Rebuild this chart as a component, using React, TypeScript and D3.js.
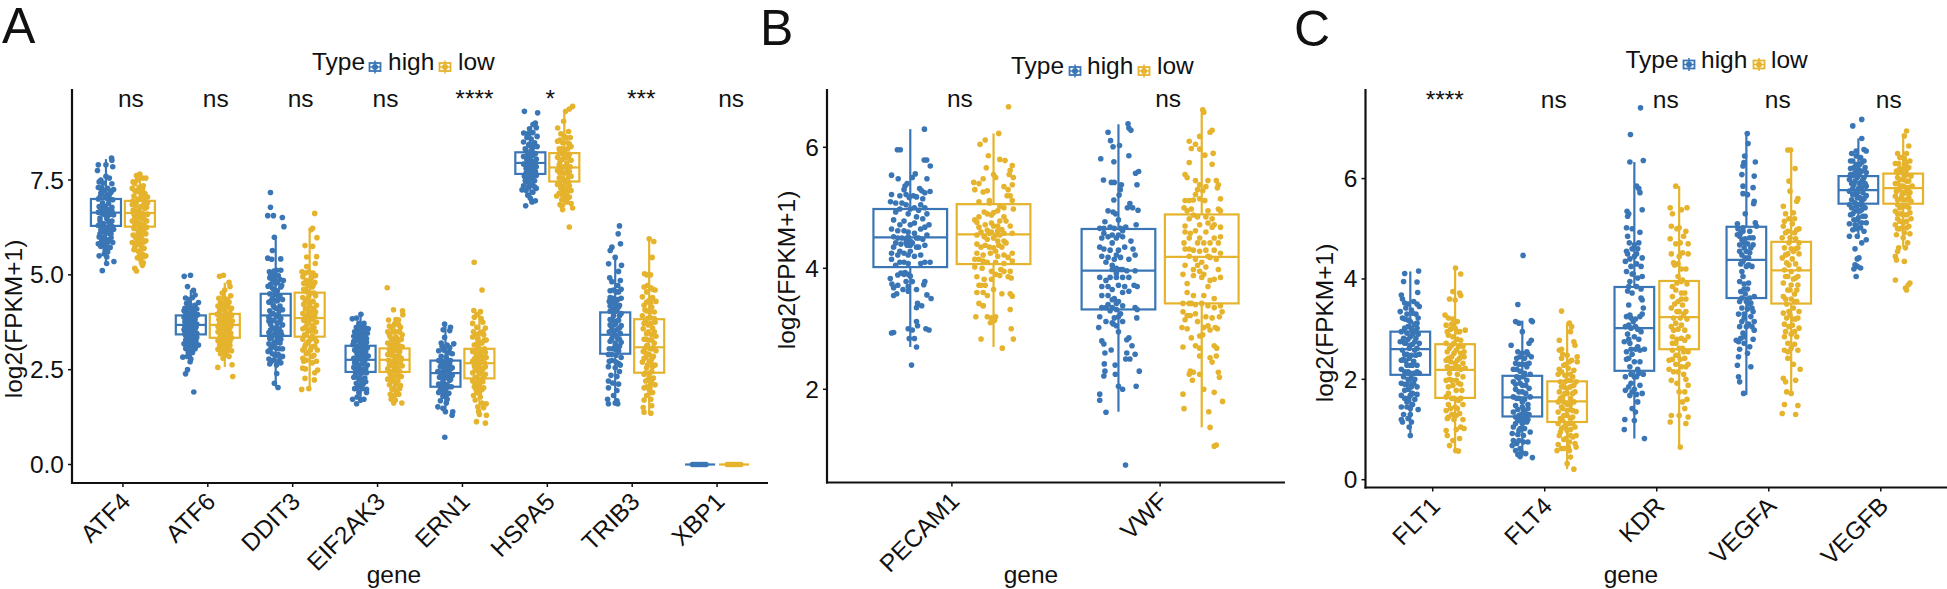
import React from "react";
import * as d3 from "d3";

const BLUE = "#3a76b5";
const GOLD = "#e6b32d";
const FONT = "'Liberation Sans', Arial, sans-serif";

// ---------- categories and labels ----------
const genesA = ["ATF4", "ATF6", "DDIT3", "EIF2AK3", "ERN1", "HSPA5", "TRIB3", "XBP1"];
const genesB = ["PECAM1", "VWF"];
const genesC = ["FLT1", "FLT4", "KDR", "VEGFA", "VEGFB"];
const sigA = ["ns", "ns", "ns", "ns", "****", "*", "***", "ns"];
const sigB = ["ns", "ns"];
const sigC = ["****", "ns", "ns", "ns", "ns"];
const ticksA = [0, 2.5, 5, 7.5];
const ticksB = [2, 4, 6];
const ticksC = [0, 2, 4, 6];

// ---------- box statistics: q1, median, q3, lower whisker, upper whisker ----------
const statsA_high = [[6.29,6.64,7.0,5.32,8.05],[3.43,3.68,3.93,2.67,4.6],[3.39,3.93,4.5,2.05,6.01],[2.44,2.76,3.13,1.62,3.94],[2.05,2.41,2.74,1.39,3.64],[7.66,7.95,8.23,6.89,8.91],[2.92,3.42,4.01,1.61,5.48],[0,0,0,0,0]];
const statsA_low = [[6.27,6.63,6.95,5.27,7.66],[3.34,3.68,3.97,2.57,4.79],[3.37,3.86,4.53,1.99,6.14],[2.44,2.76,3.06,1.62,3.87],[2.27,2.67,3.05,1.26,4.03],[7.46,7.83,8.21,6.8,9.34],[2.42,3.09,3.83,1.35,5.92],[0,0,0,0,0]];
const statsB_high = [[4.02,4.51,4.98,2.7,6.3],[3.32,3.96,4.65,1.63,6.38]];
const statsB_low = [[4.07,4.56,5.06,2.7,6.23],[3.42,4.19,4.89,1.37,6.62]];
const statsC_high = [[2.09,2.6,2.95,0.89,4.15],[1.26,1.64,2.07,0.46,3.17],[2.17,3.02,3.84,0.82,6.33],[3.62,4.38,5.04,1.69,6.9],[5.5,5.77,6.05,4.81,6.8]];
const statsC_low = [[1.63,2.19,2.7,0.58,4.22],[1.15,1.56,1.96,0.21,3.13],[2.6,3.24,3.96,0.65,5.85],[3.51,4.17,4.74,1.72,6.57],[5.5,5.81,6.1,4.64,6.9]];

// ---------- points: flat pairs of jitter (percent of a category step), log2(FPKM+1) ----------
const ATF4_high = [6.6,8.08,7,8.02,-9,7.9,0,7.9,8,7.85,-10,7.75,0,7.6,-8,7.45,-3,7.42,7,7.4,-9,7.3,2,7.28,9,7.25,-6,7.15,4,7.12,-1,7.08,-9,7.0,8,6.98,-4,6.9,3,6.88,-8,6.8,7,6.78,0,6.72,-9,6.65,-4,6.62,5,6.6,9,6.58,-7,6.5,1,6.48,7,6.42,-3,6.35,-9,6.3,4,6.28,9,6.2,-6,6.18,0,6.12,6,6.08,-8,6.0,-3,5.98,3,5.92,8,5.85,-9,5.82,-4,5.78,1,5.72,-1,5.65,2,5.6,-2,5.55,-8,5.5,1,5.47,9.4,5.35,0.8,5.3,-4.3,5.11,5,7.2,-5,7.3,3,7.0,-1,6.8,2,6.55,-2,6.25,5,6.15,-5,5.9];
const ATF4_low = [0,7.66,-4,7.62,-8,7.45,3,7.55,-6,7.4,4,7.35,-9,7.28,-1,7.3,-4,7.2,1,7.15,6,7.14,9,7.05,-7,7.08,-2,7.0,4,6.98,9,6.9,-9,6.85,-5,6.82,1,6.8,6,6.75,-8,6.7,-3,6.65,3,6.62,9,6.6,-6,6.52,0,6.5,6,6.45,-9,6.42,-3,6.36,3,6.32,8,6.25,-7,6.22,-1,6.18,5,6.12,-8,6.05,-3,6.02,2,5.98,7,5.9,-9,5.85,-4,5.8,1,5.78,5,5.7,-7,5.66,-2,5.62,3,5.55,7,5.5,-3,5.45,1,5.4,4,5.32,3,5.25,-6,5.17,-4,5.1,7,7.55,-7,6.6,5,6.88,0,6.6,-2,6.3,3,6.2,-3,5.9];
const ATF6_high = [-7.8,4.96,-0.4,4.99,-3.9,4.69,3.1,4.59,5,4.47,-6.2,4.39,9,4.27,-2,4.35,2,4.4,-5,4.25,-1,4.22,5,4.2,-7,4.12,0,4.12,3,4.08,7,4.1,-6,4.0,-2,3.98,2,3.96,8,3.95,-8,3.88,-3,3.85,1,3.84,5,3.82,-7,3.76,-1,3.72,3,3.72,7,3.7,-5,3.64,0,3.6,5,3.58,-8,3.55,-3,3.5,2,3.48,7,3.46,-6,3.4,-1,3.36,4,3.36,-4,3.28,1,3.26,6,3.24,-8,3.18,-2,3.15,3,3.14,9,3.15,-6,3.06,0,3.04,5,3.05,-3,2.96,2,2.95,-9.4,2.83,-4,2.85,0,2.78,-0.8,2.71,-3.9,2.5,-6.2,2.39,3.5,1.91];
const ATF6_low = [-6.2,4.96,-1.6,4.99,5,4.8,6.2,4.69,0,4.6,-3,4.52,7,4.45,-7,4.38,-1,4.4,3,4.35,-5,4.28,1,4.25,-8,4.18,-3,4.15,4,4.15,8,4.12,-6,4.05,0,4.05,-9,3.96,-3,3.92,3,3.94,8,3.92,-7,3.82,-1,3.82,5,3.82,9,3.78,-4,3.72,2,3.7,-8,3.64,7,3.64,-3,3.58,3,3.56,-8,3.5,0,3.46,7,3.46,-5,3.38,3,3.36,8,3.34,-8,3.26,-2,3.24,4,3.24,-6,3.14,0,3.14,6,3.14,-8,3.04,-3,3.02,3,3.0,8,3.0,-5,2.92,1,2.9,5,2.85,-2,2.8,-8.2,2.56,8.6,2.63,9.4,2.32];
const DDIT3_high = [-6.2,7.17,-6.2,6.78,-9.4,6.56,-2.7,6.56,7.8,6.51,9.7,6.27,-1.6,5.99,-3.9,5.64,-9.4,5.44,-4.7,5.41,5.9,5.42,-7.4,5.08,1,5.12,-2,4.98,3,4.98,-7,4.92,-4,4.88,5,4.88,9,4.85,0,4.78,-9,4.7,-4,4.65,6,4.68,2,4.58,-7,4.5,-1,4.48,5,4.45,-4,4.38,2,4.32,8,4.35,-8,4.28,-3,4.2,5,4.18,0,4.12,-7,4.05,8,4.08,-3,3.98,3,3.95,-8,3.88,6,3.85,-2,3.8,-6,3.7,2,3.72,8,3.68,-3,3.6,4,3.58,-8,3.48,0,3.48,7,3.42,-5,3.35,2,3.3,-2,3.22,5,3.2,-8,3.18,-5,3.08,1,3.06,8,3.05,-9,2.98,-4,2.92,3,2.9,8,2.85,-8,2.78,-3,2.75,4,2.72,-7,2.65,1,2.62,6,2.68,1.2,2.4,-1.6,2.14,2.7,2.03];
const DDIT3_low = [5.9,6.62,3.5,6.23,1.6,6.19,8.6,5.98,-5.5,5.77,3.5,5.75,-3.5,5.47,8.2,5.48,6.6,5.3,-3.5,5.22,-9,5.08,4,5.05,-8,4.95,7,4.98,-4,4.85,0,4.82,6,4.8,-2,4.72,3,4.68,-7,4.62,-3,4.55,1,4.52,7,4.45,-8,4.4,-3,4.35,4,4.3,-7,4.22,0,4.18,8,4.2,-5,4.1,3,4.05,-8,3.98,-2,3.95,6,3.92,1,3.85,-7,3.8,8,3.75,-3,3.7,3,3.66,-8,3.58,0,3.55,7,3.5,-4,3.42,3,3.38,-8,3.3,-1,3.25,8,3.25,-5,3.15,3,3.1,-8,3.02,9,3.02,-2,2.95,5,2.88,-8,2.8,-4,2.75,8,2.72,3,2.68,-8.2,2.54,-5,2.52,9.4,2.49,6,2.42,-5.5,2.27,5.5,2.23,-9.4,1.98,-1,2.0];
const EIF2AK3_high = [0.4,3.96,-4.7,3.86,-9.8,3.84,-2,3.72,-5,3.62,2,3.62,6,3.6,9,3.58,-7,3.5,-1,3.5,4,3.48,8,3.46,-8,3.38,-3,3.36,2,3.36,7,3.32,-6,3.26,0,3.22,5,3.24,-9,3.16,-3,3.12,3,3.12,8,3.08,-7,3.02,0,3.0,6,2.98,-4,2.9,2,2.9,9,2.86,-8,2.8,-1,2.78,5,2.75,-5,2.68,2,2.65,8,2.62,-8,2.56,-2,2.54,4,2.5,-6,2.44,0,2.4,7,2.42,-8,2.3,-3,2.28,3,2.25,6,2.18,-5,2.14,0,2.1,-7,2.0,2,2.0,7,1.98,-2,1.9,7,1.9,-4,1.78,3.9,1.72,-9.4,1.72,0,1.7,-4.7,1.6];
const EIF2AK3_low = [-8.6,4.66,-1.2,4.08,9.4,4.05,9.8,3.95,-7,3.81,4.7,3.81,0,3.7,-4,3.62,7,3.62,-8,3.5,3,3.5,9,3.42,-5,3.36,0,3.3,6,3.28,-8,3.2,-2,3.16,3,3.14,9,3.1,-6,3.02,0,3.0,6,2.98,-8,2.9,-3,2.88,3,2.85,8,2.8,-7,2.75,0,2.72,5,2.7,-4,2.62,2,2.6,9,2.6,-8,2.52,-1,2.48,6,2.46,-5,2.38,2,2.35,8,2.32,-8,2.25,-2,2.2,4,2.2,-6,2.1,1,2.1,7,2.08,-3,1.98,3,1.95,-5,1.85,0,1.82,5,1.85,-4,1.72,1,1.7,-1,1.62,8.6,1.62];
const ERN1_high = [-1,3.7,5.9,3.62,5,3.53,-2.7,3.55,-1,3.35,9.8,3.18,-4,3.12,5,3.08,-8,3.0,-1,3.02,3,2.95,8,2.92,-5,2.85,1,2.82,-8,2.74,6,2.74,-2,2.68,3,2.62,-6,2.58,8,2.55,0,2.5,-9,2.45,-4,2.42,4,2.42,8,2.35,-7,2.3,0,2.28,5,2.22,-3,2.18,-8,2.12,2,2.1,7,2.05,-4,2.0,0,1.95,-8,1.9,4,1.88,-3,1.8,2,1.72,-6,1.68,1,1.62,-9,1.52,-3,1.48,0,1.39,8.6,1.39,7.8,1.3,-0.8,0.72];
const ERN1_low = [-6.2,5.33,3.1,4.6,-6.6,4.06,1.2,4.03,-6,3.88,2,3.85,-8,3.72,4,3.75,-3,3.62,7,3.6,-7,3.5,0,3.46,5,3.42,-8,3.36,-2,3.3,8,3.28,3,3.2,-6,3.15,-1,3.08,6,3.05,-8,2.98,1,2.92,-4,2.85,8,2.82,-8,2.72,3,2.7,-1,2.62,7,2.58,-5,2.52,-8,2.42,2,2.42,7,2.38,-3,2.3,-8,2.2,4,2.18,0,2.1,-6,2.05,3,1.98,-3,1.9,-7,1.82,1,1.78,-5,1.7,3,1.62,8,1.6,-2,1.52,5,1.5,-1,1.4,0,1.32,8.2,1.3,-3.5,1.13,7,1.09];
const HSPA5_high = [-7,9.31,8.6,9.27,5.9,9.0,3.1,8.96,7,8.88,-1,8.85,-7.8,8.74,3,8.75,8,8.65,-4,8.62,1,8.58,-8,8.5,5,8.48,-2,8.42,8,8.38,-6,8.32,2,8.3,-3,8.2,6,8.2,-8,8.12,0,8.1,7,8.05,-4,8.02,3,7.98,-8,7.92,-1,7.88,7,7.85,-5,7.8,3,7.76,-2,7.68,7,7.62,-7,7.6,1,7.55,5,7.48,-4,7.45,-8,7.35,0,7.36,7,7.28,-5,7.22,-9.8,7.24,3,7.18,-3,7.1,0,7.02,5.9,6.95,2,6.92,-5.5,6.82];
const HSPA5_low = [9.8,9.44,5.9,9.37,1.6,9.31,-0.8,9.05,-7.8,8.87,5,8.78,-4,8.72,0,8.65,7,8.62,-8,8.52,-2,8.48,4,8.48,8,8.38,-6,8.32,1,8.3,-3,8.2,6,8.18,-8,8.1,0,8.08,8,8.02,-5,7.98,3,7.95,-1,7.85,7,7.85,-8,7.75,-3,7.7,3,7.7,8,7.6,-6,7.55,0,7.5,5,7.45,-8,7.38,-2,7.32,4,7.28,8,7.22,-6,7.15,0,7.1,6,7.05,-9,7.08,-3,6.98,3,6.92,8,6.88,-5,6.85,-2,6.72,9.8,6.76,-3,6.82,5.9,6.26];
const TRIB3_high = [5,6.29,3.5,6.08,6.2,5.82,-3.9,5.73,-5.9,5.64,0,5.46,-7.8,5.29,7.4,5.25,3.9,5.09,-6.5,4.92,-3.9,4.82,6,4.85,3,4.72,7,4.62,1,4.55,-6,4.4,-3,4.38,3,4.35,7,4.38,-7,4.3,0,4.22,5,4.2,-3,4.1,-6,4.04,2,4.05,7,3.98,-2,3.92,-6,3.82,4,3.8,0,3.7,7,3.66,-4,3.62,2,3.55,-7,3.5,6,3.45,-2,3.4,3,3.32,-6,3.25,7,3.22,0,3.12,-3,3.05,4,3.0,-8,2.9,1,2.88,7,2.82,-4,2.74,4,2.66,-8,2.58,0,2.55,5,2.45,-5,2.35,2,2.32,-8,2.2,-3,2.15,4,2.12,-8,2.02,2,1.95,-2,1.82,-9,1.72,2,1.68,-8,1.6,0,1.62,3,1.6];
const TRIB3_low = [0,5.95,5.5,5.88,3.5,5.46,-5.5,5.03,1.6,5.0,-3,5.0,-6,4.68,2,4.66,7,4.6,-3,4.55,-8,4.42,4,4.4,0,4.32,8,4.3,-6,4.2,3,4.15,-3,4.05,6,4.02,-8,3.92,1,3.88,-4,3.78,7,3.75,-1,3.68,4,3.6,-7,3.58,-3,3.45,3,3.42,8,3.38,-6,3.3,0,3.28,6,3.2,-3,3.12,3,3.05,8,3.0,-7,2.98,0,2.9,5,2.85,-4,2.82,-8,2.7,2,2.68,7,2.62,-3,2.55,3,2.45,-6,2.38,0,2.3,5,2.28,-4,2.2,2,2.12,7,2.1,-6,2.02,0,1.98,4,1.9,-3,1.82,2,1.72,-6,1.7,-7,1.5,3,1.55,-6,1.38,2,1.35];
const XBP1_high = [-9,0,-7,0,-5,0,-3,0,-1,0,1,0,3,0,5,0,7,0];
const XBP1_low = [-8,0,-6,0,-4,0,-2,0,0,0,2,0,4,0,6,0,8,0];

const PECAM1_high = [6.8,6.3,-6.2,5.96,-4.8,5.96,6.7,5.79,7.9,5.79,9.6,5.69,-9,5.54,2.4,5.56,1,5.5,-5.8,5.48,8,5.48,-1.5,5.4,-2.5,5.36,-3,5.3,4.5,5.32,5.5,5.28,7,5.25,9.5,5.27,-9,5.22,-5,5.2,-0.5,5.17,1.5,5.2,6,5.15,-9.5,5.1,-4,5.08,-2,5.05,5,5.05,7,5.0,2,5.0,4,4.96,-7,4.93,-1,4.9,8,4.9,6,4.82,-8,4.8,-3,4.78,2,4.75,9,4.72,-9,4.65,-6,4.62,5,4.65,-1,4.6,8,4.55,-8,4.52,-4,4.5,-2,4.48,0,4.45,3,4.5,6,4.48,-7,4.42,-4.5,4.4,-1.5,4.38,1,4.42,4,4.35,7,4.38,-9,4.25,-6,4.22,-3,4.25,0,4.28,2,4.2,-9,4.15,-5,4.1,-3,4.1,-1,4.08,5,4.08,7,4.1,9.5,4.1,-9.6,3.83,-8.8,3.74,-6,3.89,-4.5,3.92,-2.5,3.93,-1,3.9,0,3.87,-3.5,3.65,-6.5,3.58,-8,3.55,-1,3.62,3,3.65,6.5,3.73,7,3.78,8,3.56,10,3.5,3.5,3.42,5.5,3.38,1,2.98,7.5,3.0,3,3.12,3.5,3.05,-1,3.0,-9,2.93,-8,2.94,2,2.84,-0.5,2.84,9,2.98,3,2.7,0.6,2.4];
const PECAM1_low = [7.2,6.67,2.5,6.23,-4,6.12,-6.5,6.05,-2.5,5.86,3,5.8,5.5,5.78,9,5.7,8,5.62,-3.5,5.66,0,5.55,7.5,5.55,9.5,5.5,1,5.5,-5,5.48,-9.5,5.42,-7,5.4,9,5.38,7,5.3,-9,5.3,-5,5.26,-3,5.28,8,5.2,6.5,5.2,9,5.12,-7,5.1,-2,5.08,3,5.02,5,5.0,9.5,4.98,-4.5,4.93,-3,4.9,-1,4.88,0,4.92,-9,4.8,-8,4.76,-4,4.72,0,4.7,3,4.78,6,4.78,-7,4.68,-3,4.63,-1,4.6,2,4.62,4,4.64,8,4.7,-8,4.55,-4.5,4.52,0,4.5,3,4.55,5,4.58,9,4.58,-8,4.4,-4,4.38,0,4.34,2.5,4.38,6,4.42,-8,4.25,-5,4.22,-1.5,4.25,2,4.2,5,4.22,9,4.25,-9,4.15,-3,4.1,7,4.18,9,4.12,-9,4.02,-5.5,4.0,-1,3.95,1,3.9,3.5,3.98,-8,3.86,-4.5,3.82,-7,3.72,-4,3.72,-1,3.82,3,3.88,7,3.86,8.5,3.84,-8,3.6,-5,3.6,-3,3.55,4,3.58,8,3.58,9,3.54,-7,3.42,-5,3.38,8,3.32,-3,3.2,-1,3.18,1,3.2,-8.5,3.2,-1.5,3.1,0.5,3.14,8.5,3.0,-6,2.83,9.5,2.83,4.2,2.68];
const VWF_high = [4.6,6.39,6,6.28,5,6.32,-5,6.25,-3.8,6.11,-2.6,6.01,0.5,6.03,5,5.86,-8.5,5.81,-2.2,5.76,9.7,5.6,8.2,5.57,-7.2,5.46,-3.4,5.42,-2,5.42,8.9,5.38,1.4,5.38,0.9,5.3,0.3,5.21,-2.2,5.13,5.5,5.07,4.3,5.0,6.8,5.0,9.4,4.96,-5,4.95,-2.6,4.93,-1.4,4.9,0,4.8,-6.5,4.77,8.5,4.72,-9,4.66,-7,4.66,-4,4.68,-2,4.66,1,4.66,3.5,4.68,-8,4.5,-5,4.52,-1,4.5,2,4.52,6,4.45,-9,4.35,-7,4.32,-4,4.3,0,4.3,3,4.35,7,4.32,-8,4.2,-5,4.18,-2,4.15,1,4.18,5,4.15,8,4.22,-3,4.05,-1,4.0,1,3.98,4,3.96,8,3.96,-9,3.85,-6,3.8,-4,3.85,-1,3.92,2,3.85,7.5,3.72,9,3.7,-8,3.7,-3,3.65,0,3.72,3,3.7,-5,3.55,-2,3.5,0,3.45,-8,3.55,5,3.62,-5,3.4,-3,3.35,-1,3.32,2,3.38,8,3.35,9,3.32,-9,3.2,-2,3.18,0,3.2,-6,3.12,-2.5,3.08,8.8,3.18,-9.5,3.02,0,2.95,-8,2.8,-7,2.75,4,2.82,5,2.85,6.5,2.72,-6.5,2.6,-3.5,2.65,4,2.6,8,2.58,-6.8,2.42,-1.6,2.4,3.5,2.5,5.5,2.5,-6.5,2.3,-7,2.22,-1.5,2.25,10,2.3,0,2.05,2,2.0,8.5,2.05,-9,1.92,-9,1.82,-6,1.62,3.4,0.75];
const VWF_low = [0.5,6.62,1,6.58,5,6.28,4,6.25,-1,6.18,-6,6.1,-3,6.05,-5,5.98,-1,5.97,1.5,5.87,-6,5.75,5.5,5.9,5,5.72,-8,5.55,-7,5.5,-3,5.45,-1,5.38,2,5.35,3,5.45,7,5.45,8,5.38,7.5,5.33,-2,5.3,0.5,5.28,9,5.15,-8,5.12,-6,5.12,-4,5.13,-1,5.15,1.5,5.12,-8.5,5.0,-7,4.95,-5,4.98,8,4.98,9,4.95,-4,4.88,-2,4.85,2,4.85,5,4.82,-8,4.7,-1,4.72,3,4.75,6,4.72,9,4.68,-8,4.6,-5.5,4.58,2,4.6,6,4.5,9,4.52,-8.5,4.42,-6,4.5,-2,4.42,4,4.42,8,4.42,-8,4.32,-4,4.3,-1,4.28,2,4.3,6,4.3,9,4.25,-6,4.2,-3,4.15,0,4.1,3,4.2,7,4.15,-8,4.05,-4,3.98,-1,3.95,2,4.02,8,3.98,-9,3.9,-4,3.88,0,3.85,4,3.8,9,3.85,-7,3.75,3,3.7,-4,3.55,-7,3.6,1,3.55,6,3.5,-9,3.42,-6,3.42,-3,3.4,0,3.42,3,3.38,6,3.35,9,3.38,-9,3.28,-7,3.22,-5.5,3.22,2,3.2,8.5,3.2,9.8,3.28,1,3.02,3,3.05,-9.5,3.02,-7,3.0,6.5,3.02,7.5,3.0,-5,2.85,-1,2.88,0.5,2.9,-9,2.7,-1,2.68,6,2.72,7.2,2.68,-1,2.55,4,2.52,5,2.45,-5.5,2.3,-6,2.25,-4,2.28,-1,2.25,8,2.28,8.5,2.2,-4.5,2.15,1,2.0,6,1.95,-9,1.92,10,1.8,-8.5,1.68,3.4,1.63,4,1.37,7,1.08,6,1.06];

const FLT1_high = [7.4,4.16,-5,4.11,-6,3.95,6,3.94,6.6,3.73,-8,3.68,-7,3.6,3,3.55,-2,3.5,8,3.45,-4,3.42,1,3.38,-9,3.35,-3,3.3,5,3.3,7,3.22,-5,3.2,0,3.15,4,3.1,-2,3.05,6,3.02,-8,2.95,-3,2.92,2,2.9,-6,2.82,0,2.85,5,2.82,-9,2.75,-4,2.72,2,2.7,8,2.72,-1,2.62,4,2.58,-7,2.58,-3,2.5,1,2.48,8,2.5,-8,2.38,-4,2.36,3,2.36,0,2.28,6,2.28,-8,2.2,-2,2.15,3,2.12,8,2.12,-6,2.05,1,2.02,-8,1.92,-3,1.9,3,1.92,6,1.85,-2,1.8,-8,1.68,-5,1.62,0,1.68,6,1.7,-3,1.55,2,1.5,-8,1.45,-3,1.45,0,1.42,7,1.4,-8,1.2,-7,1.15,-2,1.22,1,1.15,-1,1.05,0,0.88];
const FLT1_low = [0.3,4.22,5,4.1,-2,3.75,4,3.72,5,3.67,-5,3.6,0,3.58,-9,3.28,-6,3.22,-2,3.2,2,3.15,-8,3.08,-4,3.0,0,3.02,4,2.95,9,2.98,-6,2.88,-2,2.85,2,2.8,-8,2.72,-3,2.68,3,2.65,7,2.66,-7,2.55,-1,2.52,5,2.52,8,2.45,-8,2.38,-4,2.35,2,2.38,-7,2.25,0,2.22,5,2.2,9,2.22,-5,2.12,2,2.1,7,2.05,-8,1.98,-3,1.98,3,1.92,-6,1.85,1,1.78,6,1.78,-8,1.65,-3,1.62,3,1.58,-6,1.5,0,1.45,7,1.5,-8,1.38,-3,1.3,4,1.32,-7,1.22,-1,1.2,7,1.2,5,1.05,8,1.02,-8,0.98,1,1.0,-7,0.88,4,0.82,-2,0.78,-5,0.68,0.5,0.58,3,0.57];
const FLT4_high = [0.7,4.47,-4,3.49,-6,3.15,-3,3.12,8,3.17,9,3.15,0,2.95,-10,2.68,6,2.72,8,2.78,4,2.55,5,2.5,-5,2.42,-2,2.45,2,2.42,8,2.45,-6,2.32,0,2.3,-8,2.2,4,2.25,-2,2.16,-5,2.05,1,2.05,7,2.1,-8,1.95,-2,1.92,3,1.88,-6,1.8,0,1.75,6,1.82,-8,1.65,-3,1.62,2,1.6,7,1.65,-6,1.48,0,1.45,5,1.42,-8,1.35,-3,1.28,2,1.25,6,1.3,-4,1.18,0,1.12,4,1.15,-2,1.02,2,1.02,-8,1.05,-9,0.92,7,0.95,-4,0.9,1,0.88,-8,0.78,-3,0.78,5,0.75,-9,0.68,-2,0.62,-6,0.58,-4,0.5,-2,0.46,3,0.52,9,0.44];
const FLT4_low = [-5,3.36,2,3.12,4,3.05,3,2.95,6,2.75,7,2.68,-7,2.78,-7,2.58,-5,2.6,0,2.48,9,2.45,-5,2.42,9,2.35,2,2.35,-3,2.28,-7,2.2,1,2.22,6,2.18,-8,2.1,-2,2.08,5,2.05,-6,1.95,0,1.98,8,1.95,-3,1.85,3,1.85,-7,1.75,0,1.72,7,1.75,-4,1.65,3,1.62,-8,1.55,0,1.5,6,1.55,-4,1.42,3,1.4,-8,1.35,8,1.36,0,1.28,5,1.25,-4,1.18,-8,1.12,2,1.12,7,1.05,-5,1.02,0,0.98,-7,0.88,3,0.88,8,0.88,-3,0.8,2,0.75,7,0.72,-8,0.7,-5,0.62,8,0.65,-9,0.58,2,0.58,3,0.45,0,0.32,6,0.21];
const KDR_high = [5.5,7.41,-3.5,6.88,-4,6.33,8,6.36,2,5.85,4,5.8,5,5.72,-6.5,5.35,-5,5.3,-6,5.25,7,5.38,-7,5.02,5,4.93,-4.5,4.72,0,4.68,-2,4.6,3,4.6,-6,4.5,0,4.45,7,4.42,-8,4.35,-3,4.25,2,4.3,6,4.25,-7,4.15,-1,4.1,7,4.05,-4,3.95,2,3.85,-6,3.76,6,3.8,-2,3.72,7,3.58,8,3.42,-5,3.48,7,3.3,-7,3.25,-3,3.22,1,3.2,-8,3.05,-3,3.02,3,3.0,-6,2.9,0,2.85,6,2.95,-9,2.75,-4,2.72,3,2.65,-7,2.55,-2,2.5,9,2.6,-7,2.4,0,2.35,5,2.35,-4,2.25,3,2.2,8,2.1,-8,2.05,0,2.05,-3,1.92,5,1.88,-8,1.78,0,1.8,7,1.72,-4,1.68,3,1.55,-2,1.42,1,1.35,-8.5,1.2,0,1.18,-9,1.0,9,0.82];
const KDR_low = [-3,5.85,-8,5.42,-6,5.3,-7,5.05,2,5.38,7,5.42,-2,5.0,4,4.85,6,4.95,-8,4.8,-3,4.7,8,4.7,-7,4.5,0,4.45,8,4.5,-4,4.28,2,4.2,6,4.2,-1,4.05,3,3.98,7,3.9,-3,3.78,2,3.72,-6,3.65,6,3.6,-1,3.55,3,3.48,-7,3.42,-2,3.35,6,3.35,-5,3.22,1,3.22,7,3.2,-7,3.05,-1,3.0,5,2.98,-6,2.85,2,2.82,8,2.85,-3,2.72,3,2.62,8,2.55,-6,2.58,-1,2.48,5,2.42,-9,2.38,-3,2.3,2,2.25,8,2.3,-9,2.2,-5,2.15,-7,1.98,6,2.0,-2,1.92,8,1.88,0,1.75,5,1.75,7,1.6,3,1.55,5,1.42,0,1.28,-7,1.28,8,1.25,-8,1.15,6,1.12,1,0.65];
const VEGFA_high = [0.8,6.9,1.5,6.7,-1.5,6.45,-2.2,6.32,-3,6.25,8,6.33,-4,6.08,7,6.05,-3,5.85,6,5.82,1,5.68,-3,5.7,6.5,5.5,7,5.55,-1,5.3,-8,5.1,-7.5,5.0,-5,4.92,-3,5.02,8,5.12,9,5.05,-8,4.88,-4,4.78,-1,4.8,3,4.82,6,4.82,-6,4.68,-2,4.62,1,4.7,4,4.62,-4,4.48,-1,4.42,3,4.52,-5,4.3,2,4.42,-4,4.15,-3,4.05,2,4.28,5,4.25,-6,3.95,-2,3.9,2,3.92,-5,3.75,-1,3.7,3,3.62,7,3.65,-6,3.55,0,3.55,4,3.52,-4,3.42,1,3.4,6,3.35,-7,3.3,-2,3.22,4,3.25,7,3.15,-6,3.05,0,3.05,7,2.98,-5,2.82,-2,2.85,6,2.8,-9,2.78,-6,2.6,1,2.52,-7,2.45,-8,2.28,4,2.25,-7,2.05,-6,1.95,-2.5,1.72];
const VEGFA_low = [-3,6.57,-0.5,6.57,3.5,6.2,-2,5.95,-1,5.75,5,5.55,6,5.6,-7,5.45,-5,5.3,2,5.32,-6,5.15,-2,5.2,3,5.2,-7,5.05,7,5.0,-3,4.95,3,4.92,-8,4.82,4,4.8,-2,4.72,7,4.72,-6,4.62,0,4.6,4,4.6,-3,4.5,7,4.5,-8,4.42,1,4.4,-4,4.32,4,4.3,-6,4.18,0,4.15,7,4.2,-3,4.05,4,4.02,-7,3.92,0,3.88,6,3.88,-3,3.78,3,3.7,-7,3.65,0,3.6,5,3.55,-4,3.5,2,3.42,-7,3.32,7,3.35,-1,3.28,4,3.2,-6,3.1,1,3.08,7,3.02,-5,2.95,0,2.9,5,2.85,-3,2.72,3,2.7,-6,2.58,6,2.58,-3,2.42,2,2.3,8,2.2,-7,2.02,-5,1.95,4,1.98,-4,1.75,-6,1.5,6,1.48,-8,1.32,4,1.3,0,1.72];
const VEGFB_high = [3,7.18,-5,7.05,3,6.8,-2,6.55,5,6.58,7,6.55,-6,6.5,-5,6.35,-2,6.28,5,6.35,-7,6.2,0,6.18,3,6.15,7,6.12,-5,6.06,-1,6.02,5,6.02,-8,5.98,2,5.92,-4,5.88,7,5.85,0,5.8,-8,5.75,-3,5.7,4,5.72,7,5.66,-1,5.62,-6,5.58,3,5.55,-8,5.48,-2,5.45,6,5.42,1,5.35,-5,5.3,4,5.25,-1,5.18,7,5.12,-8,5.1,-3,5.08,2,5.02,-5,4.98,5,4.95,-8,4.85,-1,4.85,7,4.78,3,4.72,-3,4.6,-1,4.4,0.5,4.42,-4,4.2,-1,4.25,2,4.22,-2,4.05,-3,4.28];
const VEGFB_low = [3,6.95,1,6.85,5,6.65,-5,6.5,-3,6.42,3,6.5,6,6.35,-4,6.3,1,6.25,5,6.22,-6,6.15,-1,6.12,3,6.08,7,6.05,-5,6.02,0,5.98,5,5.95,-7,5.9,-2,5.85,3,5.82,8,5.85,-5,5.78,1,5.72,6,5.72,-7,5.65,-2,5.6,3,5.58,7,5.55,-5,5.48,0,5.45,5,5.42,-7,5.35,-2,5.3,3,5.28,-5,5.2,7,5.2,0,5.12,-7,5.08,3,5.02,-3,5,6,4.9,-6,4.88,0,4.82,4,4.72,-4,4.62,-7,4.45,-5,4.55,2,4.62,-6,4.38,1,4.35,-7,3.98,2,3.82,3,3.78,4.5,3.88,6,3.92];

// ---------- further points read from the dense parts of each group ----------
const ATF4_high2 = [-6,7.5,4,7.55,-5,7.2,-2,7.22,6,7.18,-7,7.05,1,7.02,5,7.0,-3,6.78,3,6.72,-6,6.7,7,6.68,1,6.62,-1,6.58,-7,6.42,3,6.4,5,6.38,-5,6.28,1,6.25,7,6.28,-2,6.12,3,6.1,-7,6.08,-1,5.95,6,5.98,-6,5.75,5,5.72,-3,5.88,2,5.85];
const ATF4_low2 = [-3,7.5,-6,7.22,3,7.25,6,7.02,2,7.05,-4,6.92,-8,6.95,8,6.78,3,6.8,-1,6.72,-5,6.68,5,6.58,-3,6.52,3,6.48,8,6.42,-5,6.42,0,6.35,5,6.3,-6,6.32,-2,6.12,2,6.1,7,6.08,-5,5.98,4,5.85,-1,5.88,-6,5.72,2,5.68,0,5.52,5,5.48];
const ATF6_high2 = [-4,4.12,4,4.0,-8,4.05,-5,3.92,6,3.92,-1,3.9,2,3.82,-5,3.75,-2,3.65,2,3.62,6,3.62,-7,3.62,-4,3.58,0,3.5,5,3.48,-7,3.45,-3,3.4,2,3.38,7,3.35,-6,3.28,-1,3.25,3,3.22,-4,3.12,6,3.12,1,3.08];
const ATF6_low2 = [-2,4.25,5,4.28,-6,4.15,1,4.12,6,4.0,-6,3.95,0,3.92,5,3.92,-3,3.82,2,3.82,7,3.75,-6,3.72,0,3.68,5,3.68,-5,3.6,1,3.58,5,3.55,-6,3.48,-2,3.42,3,3.45,-3,3.32,1,3.3,6,3.25,-5,3.25,-2,3.12,3,3.08,-5,3.02,0,3.0];
const DDIT3_high2 = [-2,5.1,-6,5.0,6,5.12,-1,4.85,2,4.8,-6,4.75,7,4.72,-2,4.6,3,4.42,-6,4.3,0,4.32,4,4.05,-2,4.15,-5,3.98,1,3.9,-8,3.78,5,3.78,-4,3.8,0,3.6,-6,3.55,6,3.5,-3,3.42,3,3.42,-7,3.32,6,3.3,0,3.2,-3,3.12,4,3.05,-7,3.02,-1,2.88,5,2.82,-5,2.72];
const DDIT3_low2 = [-5,5.05,-1,5.08,2,4.92,-7,4.78,4,4.72,-5,4.62,-1,4.42,5,4.52,1,4.28,-5,4.28,5,4.12,-3,4.12,-1,4.02,3,3.95,7,4.02,-5,3.88,-1,3.78,4,3.82,5,3.62,-5,3.62,-2,3.52,2,3.52,-6,3.42,6,3.32,1,3.3,-3,3.2,6,3.12,-6,3.08,1,3.02,-4,2.92,3,2.85,-7,2.72];
const EIF2AK3_high2 = [4,3.72,-3,3.58,0,3.4,5,3.42,-5,3.42,-8,3.25,-2,3.28,3,3.25,7,3.22,-5,3.12,0,3.12,5,3.1,-5,2.98,3,2.98,-3,2.82,7,2.85,1,2.78,-7,2.68,-2,2.62,4,2.65,-4,2.52,1,2.5,6,2.52,-6,2.35,2,2.42,-1,2.25,5,2.28,-4,2.02,3,2.12];
const EIF2AK3_low2 = [2,3.82,-6,3.65,5,3.68,-2,3.5,6,3.5,-6,3.42,2,3.35,-3,3.28,8,3.3,3,3.22,-5,3.12,1,3.12,6,3.12,-3,3.0,3,3.02,-5,2.9,0,2.85,5,2.88,-2,2.72,3,2.72,-6,2.62,7,2.72,0,2.55,4,2.55,-6,2.45,2,2.48,-2,2.3,5,2.32,-5,2.25,1,2.2,-1,2.0,6,2.0];
const ERN1_high2 = [-5,3.2,2,3.15,-2,3.02,5,2.95,-4,2.72,2,2.72,-6,2.72,0,2.62,5,2.62,-3,2.55,2,2.5,6,2.52,-6,2.42,-1,2.38,3,2.32,-4,2.28,6,2.25,-1,2.12,-5,2.1,4,2.05,1,2.02,-6,1.98,-2,1.88,2,1.85];
const ERN1_low2 = [-3,3.95,4,3.5,-4,3.42,1,3.22,-3,3.18,6,3.28,-6,3.0,3,3.02,7,2.95,-3,2.95,0,2.8,4,2.82,-6,2.78,-3,2.7,6,2.68,1,2.55,-6,2.6,4,2.52,-3,2.48,0,2.4,5,2.3,-5,2.3,2,2.25,-2,2.18,-5,2.12,5,2.02,-1,2.02,-4,1.98,0,1.88];
const HSPA5_high2 = [-3,8.72,-1,8.45,4,8.38,-5,8.28,-1,8.2,3,8.15,-5,8.1,-3,8.02,1,7.98,6,7.95,-6,7.9,3,7.88,-3,7.82,0,7.78,6,7.72,-5,7.68,2,7.66,-2,7.55,4,7.6,-6,7.48,2,7.4,-2,7.32,5,7.32];
const HSPA5_low2 = [2,8.62,-5,8.55,6,8.45,-3,8.32,4,8.32,-6,8.2,2,8.15,-2,8.05,5,8.08,-6,7.9,3,7.82,-3,7.82,6,7.72,0,7.68,-5,7.68,-2,7.55,5,7.58,-5,7.42,2,7.42,-1,7.22,6,7.35,-4,7.28,3,7.15,-3,7.12,4,7.02,0,6.98];
const TRIB3_high2 = [-2,4.6,-6,4.58,4,4.55,-3,4.25,1,4.32,-6,4.18,4,4.15,-1,4.02,5,3.92,-3,3.8,2,3.78,-6,3.68,5,3.6,-2,3.52,0,3.42,5,3.3,-4,3.32,0,3.2,-7,3.05,5,3.12,1,3.02,-4,2.9,-7,2.72,1,2.7,6,2.62];
const TRIB3_low2 = [-2,4.72,4,4.62,-3,4.28,2,4.28,-5,4.08,1,4.02,6,3.85,-2,3.85,2,3.72,-6,3.72,6,3.5,-1,3.5,-4,3.3,3,3.28,-2,3.15,5,3.08,-5,3.05,1,3.05,-3,2.92,3,2.78,-6,2.8,0,2.72,-2,2.62,4,2.58,1,2.42,-4,2.42,3,2.22,-2,2.22,1,2.02,-3,2.05,1,1.9];
const PECAM1_high2 = [-2,5.22,3,5.18,-7,5.08,-5,4.98,0,4.98,3,4.85,-5,4.72,0,4.72,7,4.68,-3,4.62,2,4.58,-6,4.5,-1,4.52,4,4.5,-2,4.42,0,4.38,3,4.35,-8,4.35,-5,4.28,-1,4.22,5,4.22,-7,4.05,-3,3.9,-2,3.78,-6,3.72,-1,3.7,1,3.78,3,3.35,-8,3.68];
const PECAM1_low2 = [5,5.35,-2,5.12,2,4.95,-7,4.85,5,4.85,-1,4.75,2,4.7,-6,4.6,-2,4.58,1,4.55,-3,4.48,2,4.45,5,4.45,-6,4.35,-2,4.35,1,4.28,4,4.35,-7,4.15,-5,4.12,1,4.1,5,4.08,8,3.95,-6,3.72,0,3.65,5,3.95,-5,3.38];
const VWF_high2 = [-7,4.58,-3,4.55,0,4.55,2,4.62,-3,4.42,-1,4.22,-6,4.1,-3,3.98,-1,3.85,2,3.98,5,3.85,-5,3.7,2,3.6,-3,3.48,-1,3.42,-6,3.35,-4,3.3,1,3.25,-3,3.1,-1,3.05,2,3.12,-8,3.35];
const VWF_low2 = [-3,5.22,3,4.95,-6,4.82,5,4.68,-3,4.62,-6,4.32,1,4.42,-1,4.5,4,4.18,-2,4.05,1,3.9,6,3.82,-5,3.42,-3,3.25,-8,3.15,-2,3.12,5,3.18,-3,2.72,4,2.98,7,2.55];
const FLT1_high2 = [-5,3.52,6,3.5,2,3.32,-7,3.22,-2,3.18,6,3.12,-5,3.02,1,3.02,4,2.95,7,2.9,-2,2.8,4,2.75,-5,2.72,0,2.68,6,2.62,-5,2.5,-1,2.42,5,2.48,-6,2.4,2,2.28,-3,2.28,6,2.15,-5,2.15,0,2.12,-2,2.0,4,2.0,-5,1.9,1,1.85,-5,1.78,2,1.72,-2,1.62,4,1.6,-6,1.3,0,1.3];
const FLT1_low2 = [-3,3.1,-7,2.95,2,2.95,-1,2.72,5,2.78,-5,2.62,1,2.58,8,2.55,-3,2.45,4,2.42,-6,2.42,0,2.32,7,2.32,-3,2.22,3,2.25,-5,2.0,1,1.98,5,1.9,-2,1.88,-6,1.72,-1,1.62,5,1.62,-4,1.42,2,1.42,-6,1.25,-2,1.3,1,1.28];
const FLT4_high2 = [-4,2.55,0,2.52,-3,2.3,3,2.3,6,2.32,-5,2.2,2,2.12,-3,2.02,4,1.98,-6,1.9,0,1.88,-3,1.75,3,1.72,-5,1.62,0,1.55,5,1.5,-4,1.4,1,1.38,-6,1.25,-1,1.3,3,1.32,5,1.2,-2,1.18,2,1.18,-6,1.12,0,1.22,-3,0.98,1,0.75,-5,0.72,-1,0.55];
const FLT4_low2 = [-4,2.5,4,2.38,-1,2.3,-5,2.15,3,2.1,-2,1.95,3,1.98,6,1.88,-5,1.85,0,1.82,5,1.72,-2,1.72,-6,1.62,3,1.5,-3,1.55,-5,1.45,0,1.38,5,1.38,-3,1.28,3,1.22,-6,1.22,-1,1.12,5,1.12,-3,1.05,3,1.0,-6,0.95,5,0.85,-1,0.82,1,0.65,-3,0.62];
const KDR_high2 = [-2,5.0,-6,4.85,4,4.72,-7,4.55,2,4.5,-4,4.4,-2,4.1,3,4.02,-5,3.85,6,3.62,-4,3.28,5,3.25,-1,3.15,-5,3.08,1,3.05,-5,2.8,4,2.8,-3,2.6,1,2.6,5,2.58,-5,2.42,-3,2.1,2,2.05,4,2.12,-5,1.85,-2,1.75,2,1.7];
const KDR_low2 = [0,5.02,1,4.72,-5,4.32,3,4.52,-1,4.3,-2,3.92,2,3.95,-6,3.85,5,3.72,-4,3.5,2,3.6,0,3.35,4,3.3,-3,3.12,2,3.08,-5,2.98,-2,2.8,5,2.78,-6,2.72,0,2.62,4,2.55,-3,2.48,1,2.4,-6,2.4,6,2.25,-1,2.15,4,2.1];
const VEGFA_high2 = [-3,4.95,3,4.95,-6,4.85,-2,4.72,6,4.68,0,4.55,-6,4.55,-3,4.35,0,4.25,-2,3.8,1,3.8,-4,3.62,2,3.5,-2,3.3,5,3.42,-4,3.15,2,3.1,-3,2.92,5,3.05,-2,2.72,-7,2.75,3,2.65];
const VEGFA_low2 = [1,5.1,-5,4.92,5,4.98,-1,4.82,6,4.62,-5,4.48,2,4.55,-2,4.28,6,4.05,-5,4.05,2,4.0,-1,3.78,5,3.78,-5,3.6,3,3.55,-2,3.35,6,3.22,-4,3.22,2,3.2,-2,3.05,-6,2.85,3,2.95,0,2.62,-3,2.55];
const VEGFB_high2 = [-2,6.45,2,6.42,-7,6.35,3,6.32,-4,6.22,1,6.28,6,6.22,-3,6.12,1,6.08,-7,6.08,4,5.98,-3,5.95,-6,5.9,1,5.9,6,5.9,-5,5.8,3,5.82,-1,5.72,5,5.6,-5,5.68,1,5.62,-3,5.52,4,5.45,-6,5.42,0,5.48,-3,5.35,3,5.38,-7,5.28,0,5.22,-4,5.18,6,5.25,-2,5.0,3,5.12];
const VEGFB_low2 = [-1,6.42,1,6.4,-7,6.3,3,6.32,-3,6.2,3,6.18,-5,6.12,1,6.05,-3,5.98,3,5.95,-5,5.9,0,5.85,5,5.82,-3,5.78,3,5.72,-6,5.75,-1,5.68,5,5.62,-5,5.58,0,5.58,3,5.45,-3,5.42,6,5.32,-5,5.3,0,5.28,-3,5.15,3,5.15,-1,5.02,5,5.05,-5,5.0,1,4.92];

// ---------- panel tables built from the arrays above ----------
const pointsA_high = [[...ATF4_high, ...ATF4_high2], [...ATF6_high, ...ATF6_high2], [...DDIT3_high, ...DDIT3_high2], [...EIF2AK3_high, ...EIF2AK3_high2], [...ERN1_high, ...ERN1_high2], [...HSPA5_high, ...HSPA5_high2], [...TRIB3_high, ...TRIB3_high2], XBP1_high];
const pointsA_low = [[...ATF4_low, ...ATF4_low2], [...ATF6_low, ...ATF6_low2], [...DDIT3_low, ...DDIT3_low2], [...EIF2AK3_low, ...EIF2AK3_low2], [...ERN1_low, ...ERN1_low2], [...HSPA5_low, ...HSPA5_low2], [...TRIB3_low, ...TRIB3_low2], XBP1_low];
const pointsB_high = [[...PECAM1_high, ...PECAM1_high2], [...VWF_high, ...VWF_high2]];
const pointsB_low = [[...PECAM1_low, ...PECAM1_low2], [...VWF_low, ...VWF_low2]];
const pointsC_high = [[...FLT1_high, ...FLT1_high2], [...FLT4_high, ...FLT4_high2], [...KDR_high, ...KDR_high2], [...VEGFA_high, ...VEGFA_high2], [...VEGFB_high, ...VEGFB_high2]];
const pointsC_low = [[...FLT1_low, ...FLT1_low2], [...FLT4_low, ...FLT4_low2], [...KDR_low, ...KDR_low2], [...VEGFA_low, ...VEGFA_low2], [...VEGFB_low, ...VEGFB_low2]];

type PanelSpec = {
  letter: string; letterX: number; letterY: number;
  genes: string[]; sig: string[]; ticks: number[]; tickFmt: (v: number) => string;
  left: number; right: number; top: number; bottom: number;
  yVals: [number, number]; yPix: [number, number];
  statsHigh: number[][]; statsLow: number[][]; ptsHigh: number[][]; ptsLow: number[][];
  sigDx: number[]; sigY: number; labelDx: number;
  legendBase: number; legendKeyY: number; legendX: [number, number, number]; keyX: [number, number];
  yTitleX: number; yTitleY: number; geneX: number;
};

const panels: PanelSpec[] = [
  { letter: "A", letterX: 2, letterY: 43, genes: genesA, sig: sigA, ticks: ticksA, tickFmt: d3.format(".1f"),
    left: 72, right: 768, top: 89, bottom: 483, yVals: [0, 7.5], yPix: [464.5, 180],
    statsHigh: statsA_high, statsLow: statsA_low, ptsHigh: pointsA_high, ptsLow: pointsA_low,
    sigDx: [8, 8, 8, 8, 12, 3, 9, 14], sigY: 107, labelDx: 9,
    legendBase: 69.5, legendKeyY: 67, legendX: [312, 388, 458], keyX: [375, 445],
    yTitleX: 22, yTitleY: 319, geneX: 394 },
  { letter: "B", letterX: 760, letterY: 45, genes: genesB, sig: sigB, ticks: ticksB, tickFmt: d3.format("d"),
    left: 827, right: 1285, top: 89, bottom: 482.5, yVals: [2, 6], yPix: [389.3, 147.3],
    statsHigh: statsB_high, statsLow: statsB_low, ptsHigh: pointsB_high, ptsLow: pointsB_low,
    sigDx: [8, 8], sigY: 107, labelDx: 9,
    legendBase: 74, legendKeyY: 71, legendX: [1011, 1087, 1157], keyX: [1075, 1144],
    yTitleX: 795, yTitleY: 270, geneX: 1031 },
  { letter: "C", letterX: 1294, letterY: 46, genes: genesC, sig: sigC, ticks: ticksC, tickFmt: d3.format("d"),
    left: 1365.5, right: 1948, top: 89, bottom: 487.5, yVals: [0, 6], yPix: [479.7, 178.6],
    statsHigh: statsC_high, statsLow: statsC_low, ptsHigh: pointsC_high, ptsLow: pointsC_low,
    sigDx: [12, 9, 9, 9, 8], sigY: 108, labelDx: 9,
    legendBase: 68, legendKeyY: 64.5, legendX: [1625.5, 1701, 1771], keyX: [1689, 1759],
    yTitleX: 1333, yTitleY: 323, geneX: 1631 },
];

const DODGE = 0.2;
const BOX_W = 0.354;
const TEXT = 24.5;
const DOT = 2.8;

function pairs(flat: number[]) {
  return d3.range(0, flat.length, 2).map((i) => [flat[i], flat[i + 1]] as [number, number]);
}

function LegendKey({ x, y, color }: { x: number; y: number; color: string }) {
  return (
    <g stroke={color} fill="none">
      <line x1={x} x2={x} y1={y - 6.5} y2={y + 6.5} strokeWidth={1.5} />
      <rect x={x - 5.5} y={y - 4} width={11} height={8} strokeWidth={1.8} />
      <circle cx={x} cy={y} r={3} fill={color} stroke="none" />
      <line x1={x - 5.5} x2={x + 5.5} y1={y} y2={y} strokeWidth={1.4} />
    </g>
  );
}

function Panel({ p }: { p: PanelSpec }) {
  const x = d3.scalePoint<string>().domain(p.genes).range([p.left, p.right]).padding(0.6);
  const y = d3.scaleLinear().domain(p.yVals).range(p.yPix);
  const step = x.step();

  const groups = [
    { color: BLUE, side: -1, stats: p.statsHigh, pts: p.ptsHigh },
    { color: GOLD, side: 1, stats: p.statsLow, pts: p.ptsLow },
  ];

  return (
    <g fontFamily={FONT} fill="#111">
      <text x={p.letterX} y={p.letterY} fontSize={50}>{p.letter}</text>

      {groups.map((g) =>
        p.genes.map((gene, i) => {
          const cx = (x(gene) as number) + g.side * DODGE * step;
          const [q1, med, q3, lo, hi] = g.stats[i];
          const w = (BOX_W * step) / 2;
          return (
            <g key={gene + g.side}>
              <g stroke={g.color} strokeWidth={2.2} fill="none">
                <line x1={cx} x2={cx} y1={y(hi)} y2={y(q3)} />
                <line x1={cx} x2={cx} y1={y(q1)} y2={y(lo)} />
                <rect x={cx - w} y={y(q3)} width={2 * w} height={y(q1) - y(q3)} />
                <line x1={cx - w} x2={cx + w} y1={y(med)} y2={y(med)} />
              </g>
              {pairs(g.pts[i]).map(([dx, v], k) => (
                <circle key={k} cx={cx + (dx / 100) * step} cy={y(v)} r={DOT} fill={g.color} stroke="none" />
              ))}
            </g>
          );
        })
      )}

      <line x1={p.left} x2={p.left} y1={p.top} y2={p.bottom + 1} stroke="#111" strokeWidth={2.2} />
      <line x1={p.left - 1} x2={p.right} y1={p.bottom} y2={p.bottom} stroke="#111" strokeWidth={2.2} />

      {p.ticks.map((t) => (
        <g key={t}>
          <line x1={p.left - 4} x2={p.left} y1={y(t)} y2={y(t)} stroke="#111" strokeWidth={1.5} />
          <text x={p.left - 8} y={y(t) + 8.5} fontSize={TEXT} textAnchor="end">{p.tickFmt(t)}</text>
        </g>
      ))}

      {p.genes.map((gene, i) => {
        const px = x(gene) as number;
        return (
          <g key={gene}>
            <line x1={px} x2={px} y1={p.bottom} y2={p.bottom + 4} stroke="#111" strokeWidth={1.5} />
            <text transform={`translate(${px + p.labelDx},${p.bottom + 20}) rotate(-45)`} fontSize={TEXT} textAnchor="end">{gene}</text>
            <text x={px + p.sigDx[i]} y={p.sigY} fontSize={TEXT} textAnchor="middle">{p.sig[i]}</text>
          </g>
        );
      })}

      <text transform={`translate(${p.yTitleX},${p.yTitleY}) rotate(-90)`} fontSize={TEXT} textAnchor="middle">log2(FPKM+1)</text>
      <text x={p.geneX} y={582.5} fontSize={TEXT} textAnchor="middle">gene</text>

      <text x={p.legendX[0]} y={p.legendBase} fontSize={TEXT}>Type</text>
      <LegendKey x={p.keyX[0]} y={p.legendKeyY} color={BLUE} />
      <text x={p.legendX[1]} y={p.legendBase} fontSize={TEXT}>high</text>
      <LegendKey x={p.keyX[1]} y={p.legendKeyY} color={GOLD} />
      <text x={p.legendX[2]} y={p.legendBase} fontSize={TEXT}>low</text>
    </g>
  );
}

export default function App() {
  return (
    <svg width={1947} height={589} viewBox="0 0 1947 589" style={{ position: "absolute", left: 0, top: 0, display: "block", background: "#fff" }}>
      {panels.map((p) => <Panel key={p.letter} p={p} />)}
    </svg>
  );
}
